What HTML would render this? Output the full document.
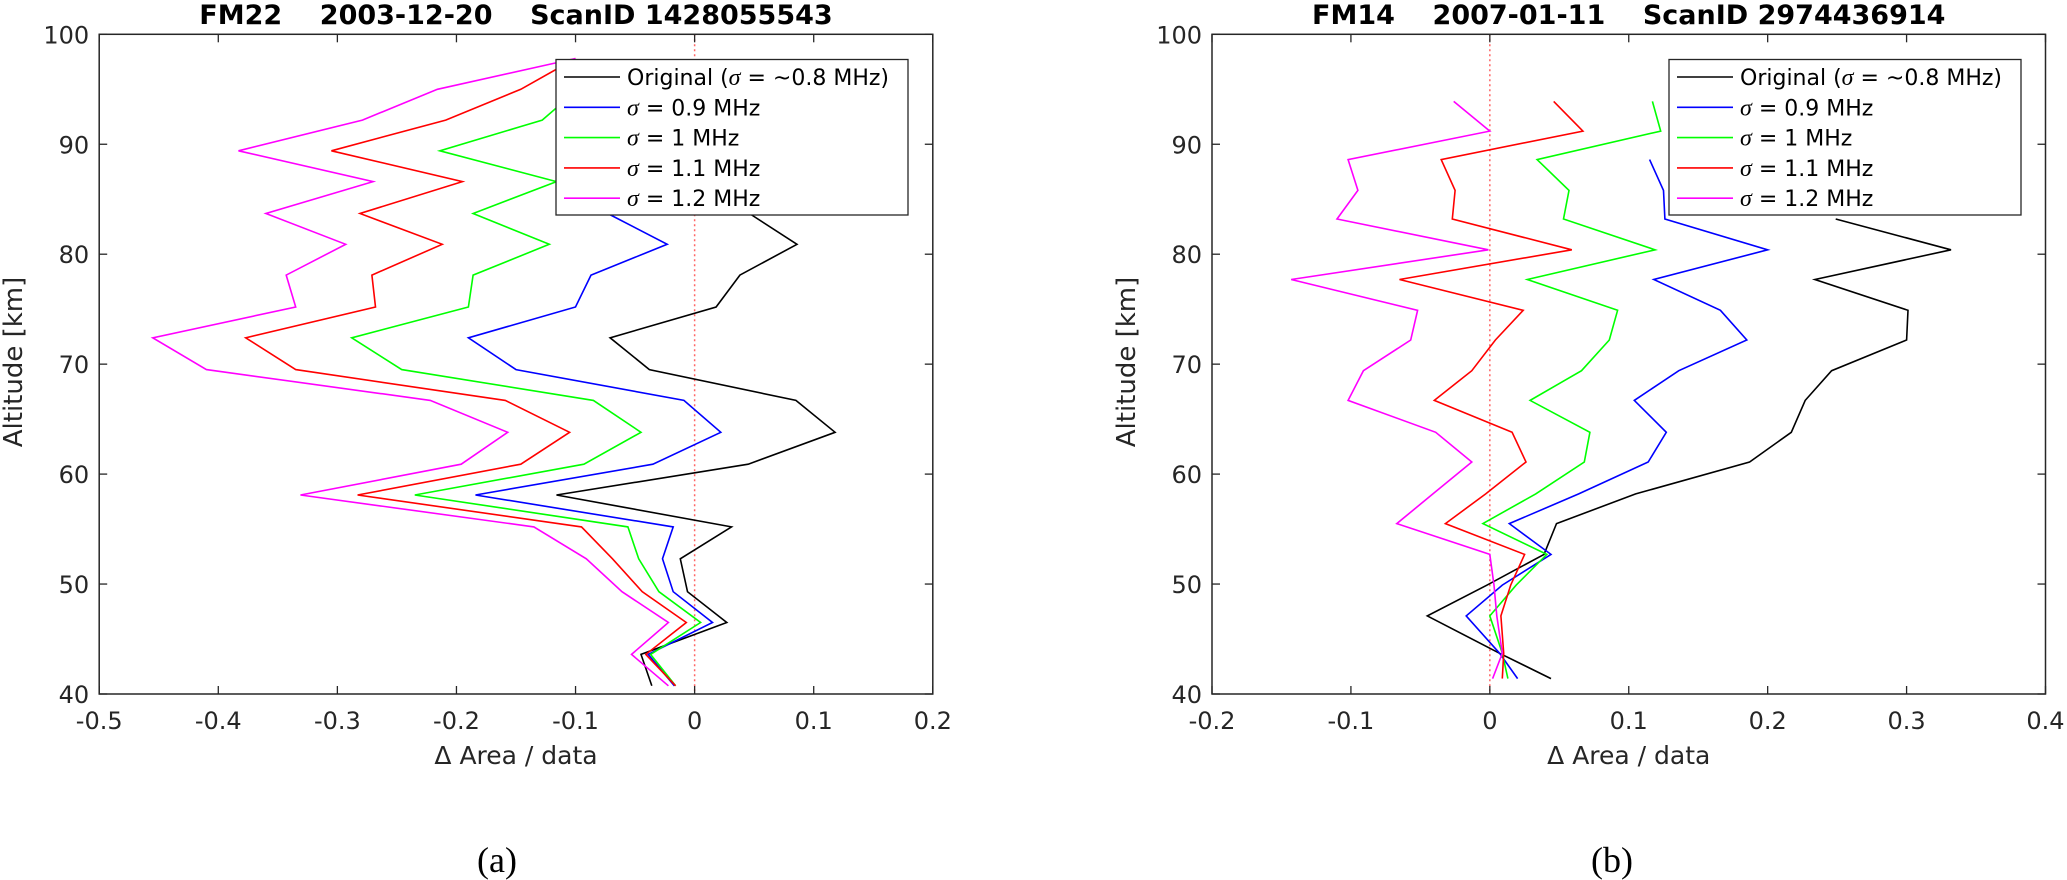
<!DOCTYPE html>
<html><head><meta charset="utf-8"><style>
html,body{margin:0;padding:0;background:#fff;}
svg{display:block;font-family:"DejaVu Sans","Liberation Sans",sans-serif;}
</style></head>
<body>
<svg id="fig" width="2067" height="880" viewBox="0 0 2067 880" xmlns="http://www.w3.org/2000/svg"></svg>
<script>
// Panel (a) data
const altA = [40.75,43.6,46.5,49.3,52.3,55.2,58.1,60.9,63.8,66.7,69.5,72.4,75.2,78.1,80.9,83.7,86.6,89.4,92.2,95.0,97.8];
const origA = [-0.036,-0.045,0.027,-0.006,-0.012,0.031,-0.116,0.045,0.118,0.085,-0.038,-0.071,0.018,0.038,0.086,0.046];
const s09A = [-0.017,-0.039,0.015,-0.018,-0.027,-0.018,-0.184,-0.035,0.022,-0.009,-0.150,-0.190,-0.100,-0.087,-0.023,-0.073];
const s10A = [-0.016,-0.037,0.005,-0.030,-0.047,-0.056,-0.235,-0.093,-0.045,-0.085,-0.246,-0.288,-0.190,-0.186,-0.122,-0.186,-0.116,-0.214,-0.128,-0.098];
const s11A = [-0.016,-0.041,-0.007,-0.044,-0.069,-0.095,-0.283,-0.146,-0.105,-0.159,-0.335,-0.377,-0.268,-0.271,-0.212,-0.281,-0.195,-0.305,-0.209,-0.146,-0.100];
const s12A = [-0.022,-0.053,-0.022,-0.061,-0.091,-0.135,-0.331,-0.196,-0.157,-0.222,-0.410,-0.455,-0.335,-0.343,-0.293,-0.360,-0.270,-0.383,-0.279,-0.216,-0.100];
// Panel (b) data
const altB = [41.4,43.7,47.1,49.9,52.7,55.5,58.2,61.1,63.8,66.7,69.4,72.2,74.9,77.7,80.4,83.2,85.8,88.6,91.2,93.9];
const origB = [0.044,0.007,-0.045,-0.002,0.039,0.048,0.105,0.187,0.217,0.227,0.246,0.300,0.301,0.234,0.332,0.249];
const s09B = [0.020,0.007,-0.017,0.009,0.044,0.014,0.064,0.114,0.127,0.104,0.136,0.185,0.166,0.118,0.200,0.126,0.125,0.115];
const s10B = [0.013,0.009,0.000,0.019,0.041,-0.005,0.033,0.068,0.072,0.029,0.066,0.086,0.092,0.027,0.119,0.053,0.057,0.034,0.123,0.117];
const s11B = [0.009,0.010,0.008,0.015,0.025,-0.032,-0.003,0.026,0.016,-0.040,-0.013,0.004,0.024,-0.065,0.059,-0.027,-0.025,-0.035,0.067,0.046];
const s12B = [0.002,0.009,0.005,0.003,0.000,-0.067,-0.041,-0.013,-0.039,-0.102,-0.091,-0.057,-0.052,-0.143,-0.001,-0.110,-0.095,-0.102,0.000,-0.026];
const xTicksA = [-0.5,-0.4,-0.3,-0.2,-0.1,0,0.1,0.2];
const xTickLabelsA = ["-0.5","-0.4","-0.3","-0.2","-0.1","0","0.1","0.2"];
const xTicksB = [-0.2,-0.1,0,0.1,0.2,0.3,0.4];
const xTickLabelsB = ["-0.2","-0.1","0","0.1","0.2","0.3","0.4"];
const yTicks = [40,50,60,70,80,90,100];
const legendPre = ["Original (","","","",""];
const legendPost = [" = ~0.8 MHz)"," = 0.9 MHz"," = 1 MHz"," = 1.1 MHz"," = 1.2 MHz"];
const seriesColors = ["#000000","#0000ff","#00ff00","#ff0000","#ff00ff"];

const NS = "http://www.w3.org/2000/svg";
const svg = document.getElementById('fig');
function mk(tag, attrs, parent){
  const e = document.createElementNS(NS, tag);
  for (const k in attrs) e.setAttribute(k, attrs[k]);
  (parent||svg).appendChild(e);
  return e;
}

function panel(cfg){
  const g = mk('g', {});
  
  
  const L=cfg.left, R=cfg.right, T=34.3, B=694;
  const xs = v => L + (v - cfg.xmin)/(cfg.xmax - cfg.xmin)*(R-L);
  const ys = a => B - (a - 40)/60*(B-T);
  const zl = mk('line', {x1:xs(0),x2:xs(0),y1:T,y2:B,stroke:'#ff6666','stroke-width':1.5,'stroke-dasharray':'2,3'}, g);
  
  
  cfg.series.forEach((vals,i)=>{
    const pts = vals.map((v,j)=>xs(v).toFixed(1)+','+ys(cfg.alt[j]).toFixed(1)).join(' ');
    const pl = mk('polyline', {points:pts,fill:'none',stroke:seriesColors[i],'stroke-width':1.6,'stroke-linejoin':'miter'}, g);
    
    
  });
  const box = mk('rect', {x:L,y:T,width:R-L,height:B-T,fill:'none',stroke:'#262626','stroke-width':1.5}, g);
  
  
  cfg.xticks.forEach((v,i)=>{
    const x = xs(v);
    mk('line',{x1:x,x2:x,y1:B,y2:B-8,stroke:'#262626','stroke-width':1.3},g);
    mk('line',{x1:x,x2:x,y1:T,y2:T+8,stroke:'#262626','stroke-width':1.3},g);
    const t = mk('text',{x:x,y:729,'text-anchor':'middle','font-size':24,fill:'#262626'},g);
    t.textContent = cfg.xlabels[i];
    
    
  });
  yTicks.forEach(a=>{
    const y = ys(a);
    mk('line',{x1:L,x2:L+8,y1:y,y2:y,stroke:'#262626','stroke-width':1.3},g);
    mk('line',{x1:R,x2:R-8,y1:y,y2:y,stroke:'#262626','stroke-width':1.3},g);
    const t = mk('text',{x:L-10,y:y+9,'text-anchor':'end','font-size':24,fill:'#262626'},g);
    t.textContent = String(a);
    
    
  });
  const xl = mk('text',{x:(L+R)/2,y:764,'text-anchor':'middle','font-size':25,fill:'#262626'},g);
  xl.textContent = '\u0394 Area / data';
  
  
  const yl = mk('text',{x:0,y:0,'text-anchor':'middle','font-size':26,fill:'#262626',transform:'translate('+(L-77)+',362) rotate(-90)'},g);
  yl.textContent = 'Altitude [km]';
  
  
  const tt = mk('text',{x:(L+R)/2,y:24,'text-anchor':'middle','font-size':27,'font-weight':'bold',fill:'#000'},g);
  tt.style.whiteSpace='pre';
  tt.textContent = cfg.title;
  
  
  const lg = mk('g',{},g);
  
  
  const lx = cfg.legX;
  mk('rect',{x:lx,y:59.5,width:352,height:155.5,fill:'#fff',stroke:'#262626','stroke-width':1.3},lg);
  legendPost.forEach((post,i)=>{
    const y = 77 + i*30.3;
    mk('line',{x1:lx+8,x2:lx+64,y1:y,y2:y,stroke:seriesColors[i],'stroke-width':1.6},lg);
    const t = mk('text',{x:lx+71,y:y+8,'font-size':22,fill:'#000'},lg);
    
    
    if (legendPre[i]) { const a = mk('tspan',{},t); a.textContent = legendPre[i]; }
    const s = mk('tspan',{'font-style':'italic','font-family':'"Liberation Serif", serif','font-size':24},t);
    s.textContent = '\u03C3';
    const b = mk('tspan',{},t); b.textContent = post;
  });
  const cap = mk('text',{x:cfg.capX,y:872,'text-anchor':'middle','font-size':36,fill:'#000','font-family':'"Liberation Serif", serif'},g);
  cap.textContent = cfg.caption;
  
  
}

panel({name:'panel-a',left:99.2,right:932.8,xmin:-0.5,xmax:0.2,alt:altA,
  series:[origA,s09A,s10A,s11A,s12A],xticks:xTicksA,xlabels:xTickLabelsA,
  title:'FM22    2003-12-20    ScanID 1428055543',legX:556,capX:497,caption:'(a)'});
panel({name:'panel-b',left:1212,right:2045.5,xmin:-0.2,xmax:0.4,alt:altB,
  series:[origB,s09B,s10B,s11B,s12B],xticks:xTicksB,xlabels:xTickLabelsB,
  title:'FM14    2007-01-11    ScanID 2974436914',legX:1669,capX:1612,caption:'(b)'});
</script>
</body></html>
